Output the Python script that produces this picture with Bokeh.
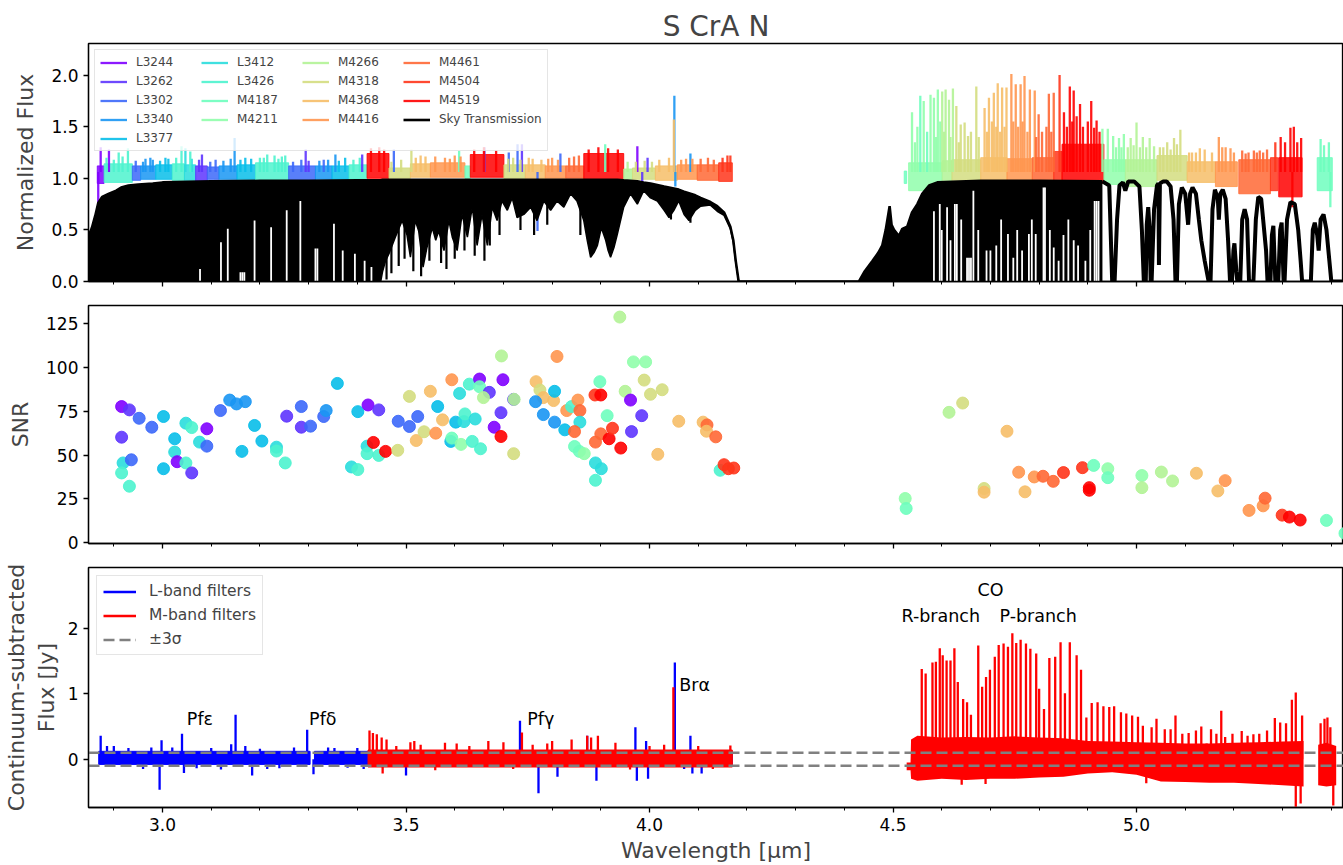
import numpy as np
from bokeh.plotting import figure
from bokeh.models import (ColumnDataSource, Legend, LegendItem, Range1d, SingleIntervalTicker,
                          NumeralTickFormatter, CustomJSTickFormatter)
from bokeh.layouts import column
from bokeh.embed import file_html
from bokeh.resources import INLINE
from bokeh.core.properties import value

FONT = "DejaVu Sans"

# ---------------- data ----------------
order_names = ["L3244", "L3262", "L3302", "L3340", "L3377", "L3412", "L3426",
               "M4187", "M4211", "M4266", "M4318", "M4368", "M4416", "M4461", "M4504", "M4519"]

# top panel: spectral chunks per order (order index, start, end, low, high of the noisy band)
seg_ord = [0, 6, 2, 3, 4, 6, 5, 1, 2, 3, 4, 6, 2, 3, 4, 6,
           15, 10, 11, 12, 7, 15, 10, 11, 12, 13, 15, 9, 10, 11, 12, 13, 14,
           7, 8, 9, 10, 11, 12, 13, 14, 15, 8, 9, 10, 11, 12, 13, 14, 15, 7]
seg_x0 = [2.866, 2.880, 2.938, 2.955, 2.986, 3.020, 3.045, 3.068, 3.092, 3.116, 3.153, 3.191, 3.259, 3.314, 3.348, 3.383,
          3.420, 3.465, 3.509, 3.550, 3.621, 3.632, 3.701, 3.745, 3.786, 3.828, 3.865, 3.947, 3.965, 4.012, 4.057, 4.098, 4.142,
          4.523, 4.532, 4.601, 4.621, 4.680, 4.734, 4.786, 4.830, 4.847, 4.933, 4.977, 5.042, 5.104, 5.162, 5.210, 5.275, 5.292, 5.371]
seg_x1 = [2.880, 2.938, 2.955, 2.986, 3.020, 3.045, 3.068, 3.092, 3.116, 3.153, 3.191, 3.259, 3.314, 3.348, 3.383, 3.420,
          3.465, 3.509, 3.550, 3.621, 3.632, 3.701, 3.745, 3.786, 3.828, 3.865, 3.947, 3.965, 4.012, 4.057, 4.098, 4.142, 4.170,
          4.528, 4.601, 4.621, 4.680, 4.734, 4.786, 4.830, 4.847, 4.933, 4.977, 5.042, 5.104, 5.162, 5.207, 5.275, 5.290, 5.340, 5.402]
seg_lo = [0.95, 0.96, 0.98, 0.99, 0.99, 0.98, 0.98, 0.97, 0.99, 0.99, 0.99, 0.97, 0.98, 0.99, 0.99, 0.99,
          1.00, 1.00, 1.01, 1.01, 1.00, 1.01, 1.00, 1.00, 1.00, 1.00, 0.98, 0.99, 0.99, 0.98, 0.99, 0.98, 0.97,
          0.95, 0.88, 0.93, 0.98, 0.98, 0.97, 0.95, 0.93, 0.95, 0.94, 0.92, 0.98, 0.96, 0.92, 0.85, 0.88, 0.82, 0.88]
seg_hi = [1.12, 1.14, 1.12, 1.12, 1.13, 1.14, 1.13, 1.12, 1.11, 1.12, 1.13, 1.15, 1.12, 1.12, 1.12, 1.13,
          1.24, 1.10, 1.14, 1.15, 1.12, 1.23, 1.13, 1.13, 1.12, 1.12, 1.24, 1.09, 1.10, 1.12, 1.13, 1.13, 1.15,
          1.07, 1.15, 1.17, 1.18, 1.20, 1.19, 1.20, 1.26, 1.33, 1.18, 1.18, 1.22, 1.16, 1.16, 1.18, 1.20, 1.20, 1.20]

# top panel: individual lines / spikes (order index, wavelength, flux)
spk_ord = [0, 0, 6, 6, 3, 3, 4, 6, 5, 6, 1, 2, 3, 4, 6, 6, 6, 6, 1, 3, 2, 3, 4, 1, 2, 10, 7, 1, 2, 2, 1, 2, 7, 0, 1, 3, 11, 3,
           0, 2, 1, 3, 11, 12, 12, 10, 11, 12, 13, 10, 12, 13, 14,
           8, 7, 8, 8, 8, 8, 9, 9, 9, 9, 10, 10, 10, 10, 10, 11, 11, 11, 11, 11, 11, 12, 12, 12, 12, 12, 12, 13, 13, 13, 14,
           15, 15, 15, 15, 15, 15, 15, 8, 8,
           8, 8, 8, 9, 9, 9, 9, 9, 10, 10, 10, 10, 11, 11, 12, 12, 12, 13, 13, 13, 13, 13, 14, 15, 15, 15, 15, 7, 7, 15, 7,
           6, 6, 6, 2, 3, 3, 4, 4, 6, 5, 1, 2, 3, 3, 4, 4, 6, 6, 6, 2, 2, 1, 3, 4, 6, 6,
           10, 10, 11, 11, 12, 12, 12, 10, 10, 11, 11, 12, 12, 13, 13, 9, 10, 10, 11, 11, 12, 12, 13, 13, 14, 14,
           15, 15, 15, 15, 15, 15, 15, 15, 15, 15,
           8, 8, 7, 8, 8, 9, 9, 10, 10, 10, 11, 11, 11, 11, 11, 12, 12, 12, 12, 13, 13, 13, 13, 15, 15, 15, 15, 15, 15,
           8, 8, 9, 9, 9, 9, 10, 10, 10, 11, 11, 11, 11, 12, 12, 13, 13, 13, 15, 15, 7]
spk_x = [2.873, 2.890, 2.910, 2.929, 2.965, 2.975, 3.006, 3.039, 3.047, 3.057, 3.081, 3.109, 3.148, 3.170, 3.200, 3.215, 3.230,
         3.245, 3.294, 3.322, 3.331, 3.355, 3.375, 3.410, 3.475, 3.511, 3.609, 3.661, 3.711, 3.729, 3.738, 3.817, 3.909, 3.975,
         3.996, 4.051, 4.050, 4.084,
         2.868, 3.770, 3.985, 4.053, 3.530, 3.580, 3.600, 3.720, 3.760, 3.800, 3.845, 3.990, 4.075, 4.120, 4.160,
         4.539, 4.556, 4.563, 4.577, 4.584, 4.592, 4.601, 4.608, 4.615, 4.623, 4.630, 4.639, 4.647, 4.654, 4.671, 4.688, 4.697,
         4.707, 4.715, 4.724, 4.733, 4.743, 4.752, 4.762, 4.770, 4.781, 4.791, 4.799, 4.820, 4.830, 4.842,
         4.851, 4.863, 4.871, 4.884, 4.907, 4.913, 4.918, 4.930, 4.941,
         4.952, 4.964, 4.974, 4.988, 5.000, 5.013, 5.027, 5.036, 5.048, 5.063, 5.077, 5.090, 5.114, 5.130, 5.169, 5.183, 5.193,
         5.217, 5.224, 5.241, 5.253, 5.268, 5.285, 5.296, 5.316, 5.323, 5.338, 5.378, 5.395, 5.320, 5.398,
         2.885, 2.900, 2.918, 2.945, 2.960, 2.980, 2.995, 3.012, 3.028, 3.060, 3.075, 3.098, 3.125, 3.140, 3.160, 3.182,
         3.208, 3.238, 3.252, 3.268, 3.285, 3.300, 3.340, 3.362, 3.392, 3.405,
         3.470, 3.490, 3.520, 3.540, 3.560, 3.590, 3.612, 3.710, 3.735, 3.752, 3.778, 3.792, 3.812, 3.835, 3.855, 3.955,
         3.972, 4.005, 4.020, 4.040, 4.065, 4.088, 4.105, 4.132, 4.150, 4.166,
         3.428, 3.445, 3.455, 3.640, 3.660, 3.685, 3.875, 3.895, 3.915, 3.935,
         4.545, 4.550, 4.570, 4.588, 4.597, 4.605, 4.618, 4.635, 4.660, 4.676, 4.693, 4.703, 4.712, 4.720, 4.729, 4.747,
         4.757, 4.766, 4.776, 4.794, 4.806, 4.815, 4.825, 4.857, 4.868, 4.877, 4.890, 4.900, 4.924,
         4.958, 4.969, 4.982, 4.994, 5.007, 5.020, 5.055, 5.070, 5.083, 5.108, 5.122, 5.140, 5.155, 5.176, 5.200, 5.230,
         5.247, 5.260, 5.305, 5.330, 5.385]
spk_y = [1.30, 1.28, 1.25, 1.29, 1.19, 1.20, 1.20, 1.31, 1.29, 1.26, 1.23, 1.18, 1.39, 1.20, 1.20, 1.23, 1.22,
         1.21, 1.28, 1.17, 1.18, 1.23, 1.20, 1.23, 1.28, 1.28, 1.27, 1.30, 1.25, 1.33, 1.33, 1.24, 1.33, 1.31,
         1.20, 1.80, 1.57, 1.24,
         0.72, 0.49, 0.88, 0.92, 1.22, 1.20, 1.22, 1.20, 1.19, 1.20, 1.21, 1.17, 1.19, 1.20, 1.22,
         1.64, 1.80, 1.75, 1.81, 1.78, 1.86, 1.84, 1.86, 1.76, 1.87, 1.70, 1.52, 1.54, 1.41, 1.89, 1.68, 1.78,
         1.83, 1.92, 1.88, 1.88, 2.01, 1.91, 1.91, 1.99, 1.86, 1.85, 1.62, 1.82, 1.83, 2.00,
         1.64, 1.89, 1.85, 1.72, 1.75, 1.49, 1.56, 1.48, 1.48,
         1.41, 1.39, 1.43, 1.39, 1.54, 1.40, 1.39, 1.31, 1.30, 1.35, 1.39, 1.47, 1.25, 1.29, 1.40, 1.30, 1.29,
         1.27, 1.24, 1.27, 1.27, 1.28, 1.35, 1.40, 1.49, 1.50, 1.39, 1.38, 1.35, 0.72, 0.72,
         1.20, 1.18, 1.21, 1.17, 1.16, 1.18, 1.17, 1.19, 1.20, 1.19, 1.18, 1.16, 1.17, 1.19, 1.18, 1.19,
         1.20, 1.19, 1.22, 1.16, 1.18, 1.17, 1.18, 1.17, 1.18, 1.20,
         1.16, 1.18, 1.20, 1.21, 1.21, 1.19, 1.21, 1.19, 1.18, 1.20, 1.18, 1.19, 1.18, 1.20, 1.22, 1.16,
         1.16, 1.16, 1.18, 1.20, 1.18, 1.19, 1.19, 1.18, 1.20, 1.22,
         1.29, 1.30, 1.28, 1.28, 1.30, 1.27, 1.28, 1.30, 1.29, 1.28,
         1.35, 1.50, 1.45, 1.40, 1.55, 1.45, 1.40, 1.35, 1.45, 1.40, 1.45, 1.55, 1.50, 1.45, 1.50, 1.55,
         1.50, 1.55, 1.45, 1.40, 1.45, 1.50, 1.45, 1.50, 1.55, 1.60, 1.50, 1.55, 1.45,
         1.30, 1.30, 1.30, 1.32, 1.30, 1.30, 1.30, 1.28, 1.33, 1.25, 1.25, 1.28, 1.25, 1.30, 1.25, 1.25,
         1.25, 1.25, 1.35, 1.35, 1.32]

# sky transmission, L side (wavelength, upper envelope, lower envelope)
sky_lx = [2.848, 2.855, 2.862, 2.868, 2.876, 2.890, 2.905, 2.915, 2.930, 2.950,
          2.980, 3.000, 3.050, 3.100, 3.200, 3.300, 3.400, 3.448, 3.452, 3.458,
          3.465, 3.478, 3.492, 3.502, 3.509, 3.519, 3.526, 3.535, 3.543, 3.554,
          3.561, 3.567, 3.578, 3.588, 3.595, 3.605, 3.615, 3.626, 3.636, 3.646,
          3.656, 3.667, 3.677, 3.687, 3.697, 3.708, 3.718, 3.728, 3.742, 3.756,
          3.769, 3.783, 3.797, 3.810, 3.824, 3.838, 3.851, 3.865, 3.872, 3.879,
          3.886, 3.893, 3.901, 3.910, 3.915, 3.920, 3.927, 3.934, 3.947, 3.961,
          3.975, 3.988, 4.002, 4.016, 4.030, 4.040, 4.050, 4.060, 4.071, 4.081,
          4.094, 4.105, 4.125, 4.139, 4.153, 4.166, 4.172, 4.177, 4.183]
sky_lhi = [0.44, 0.52, 0.64, 0.76, 0.82, 0.85, 0.88, 0.91, 0.93, 0.94,
           0.95, 0.96, 0.965, 0.97, 0.975, 0.975, 0.98, 0.98, 0.985, 0.985,
           0.985, 0.985, 0.985, 0.985, 0.985, 0.985, 0.985, 0.985, 0.985, 0.985,
           0.985, 0.985, 0.985, 0.985, 0.985, 0.985, 0.985, 0.985, 0.985, 0.985,
           0.985, 0.985, 0.985, 0.985, 0.985, 0.985, 0.985, 0.985, 0.985, 0.985,
           0.985, 0.985, 0.985, 0.985, 0.985, 0.985, 0.985, 0.985, 0.985, 0.985,
           0.985, 0.985, 0.985, 0.985, 0.985, 0.985, 0.985, 0.985, 0.98, 0.975,
           0.97, 0.96, 0.95, 0.935, 0.92, 0.91, 0.90, 0.89, 0.87, 0.855,
           0.835, 0.81, 0.77, 0.73, 0.67, 0.53, 0.40, 0.20, 0.0]
sky_llo = [0, 0, 0, 0, 0, 0, 0, 0, 0, 0,
           0, 0, 0, 0, 0, 0, 0, 0, 0.10, 0.20,
           0.27, 0.43, 0.59, 0.45, 0.235, 0.59, 0.49, 0.14, 0.33, 0.52,
           0.40, 0.49, 0.30, 0.59, 0.43, 0.30, 0.65, 0.43, 0.72, 0.35,
           0.65, 0.35, 0.72, 0.59, 0.78, 0.69, 0.81, 0.62, 0.65, 0.72,
           0.59, 0.78, 0.69, 0.78, 0.72, 0.85, 0.78, 0.59, 0.40, 0.235,
           0.28, 0.35, 0.52, 0.40, 0.30, 0.235, 0.33, 0.46, 0.72, 0.85,
           0.75, 0.88, 0.81, 0.78, 0.69, 0.62, 0.69, 0.78, 0.65, 0.59,
           0.69, 0.73, 0.74, 0.68, 0.64, 0.51, 0.38, 0.19, 0.0]

# deep single telluric lines reaching below the lower envelope (wavelength, depth)
deep_x = [3.460, 3.470, 3.485, 3.497, 3.515, 3.531, 3.548, 3.572, 3.583, 3.600, 3.620, 3.641, 3.661, 3.672, 3.692,
          3.735, 3.763, 3.790, 3.858, 4.044, 4.084]
deep_y = [0.02, 0.08, 0.15, 0.22, 0.10, 0.05, 0.20, 0.18, 0.12, 0.22, 0.30, 0.25, 0.20, 0.35, 0.45,
          0.50, 0.45, 0.55, 0.45, 0.60, 0.57]

# sky transmission, M side (dense part)
sky_mx = [4.183, 4.430, 4.442, 4.458, 4.470, 4.478, 4.485, 4.493, 4.497, 4.502,
          4.512, 4.519, 4.529, 4.539, 4.550, 4.560, 4.574, 4.591, 4.680, 4.800, 4.930]
sky_mhi = [0.0, 0.0, 0.10, 0.20, 0.28, 0.35, 0.50, 0.73, 0.55, 0.50,
           0.44, 0.51, 0.53, 0.67, 0.75, 0.85, 0.93, 0.96, 0.975, 0.975, 0.97]

# sky transmission, resolved windows beyond 4.93 um
arch_x = [4.930, 4.944, 4.950, 4.955, 4.960, 4.965, 4.972, 4.977, 4.983, 4.995, 5.006, 5.011, 5.015, 5.019, 5.021,
          5.024, 5.027, 5.029, 5.031, 5.036, 5.042, 5.045, 5.046, 5.048, 5.055, 5.062, 5.070, 5.076, 5.080, 5.083,
          5.087, 5.093, 5.100, 5.106, 5.110, 5.115, 5.122, 5.128, 5.133, 5.140, 5.148, 5.152, 5.156, 5.161, 5.167,
          5.169, 5.172, 5.177, 5.183, 5.188, 5.192, 5.196, 5.199, 5.201, 5.205, 5.207, 5.213, 5.217, 5.222, 5.227,
          5.231, 5.240, 5.245, 5.250, 5.256, 5.262, 5.266, 5.269, 5.275, 5.278, 5.281, 5.285, 5.291, 5.295, 5.298,
          5.302, 5.304, 5.309, 5.316, 5.325, 5.332, 5.337, 5.340, 5.358, 5.362, 5.366, 5.371, 5.374, 5.378, 5.384,
          5.390, 5.396, 5.400, 5.430]
arch_y = [0.97, 0.93, 0.0, 0.0, 0.60, 0.93, 0.96, 0.88, 0.97, 0.97, 0.92, 0.50, 0.0, 0.0, 0.55,
          0.72, 0.50, 0.0, 0.0, 0.70, 0.93, 0.95, 0.16, 0.95, 0.97, 0.97, 0.92, 0.60, 0.0, 0.0,
          0.75, 0.91, 0.85, 0.55, 0.85, 0.91, 0.85, 0.60, 0.40, 0.20, 0.0, 0.0, 0.70, 0.89, 0.80,
          0.60, 0.85, 0.89, 0.80, 0.40, 0.0, 0.0, 0.30, 0.37, 0.10, 0.0, 0.0, 0.60, 0.70, 0.60,
          0.0, 0.0, 0.60, 0.82, 0.80, 0.50, 0.30, 0.0, 0.0, 0.45, 0.54, 0.0, 0.0, 0.50, 0.57,
          0.0, 0.0, 0.60, 0.77, 0.75, 0.50, 0.20, 0.0, 0.0, 0.50, 0.57, 0.45, 0.30, 0.60, 0.65,
          0.50, 0.20, 0.0, 0.0]

# narrow transparent gaps between deep telluric lines
slit_x = [3.077, 3.120, 3.134, 3.160, 3.164, 3.168, 3.189, 3.223, 3.255, 3.283, 3.314, 3.318, 3.352, 3.370, 3.395,
          3.415, 3.429,
          4.584, 4.596, 4.611, 4.627, 4.631, 4.652, 4.656, 4.660, 4.665, 4.692, 4.700, 4.736, 4.747, 4.779, 4.793,
          4.809, 4.812, 4.830, 4.840, 4.871, 4.895, 4.914, 4.918, 4.922,
          4.600, 4.618, 4.640, 4.675, 4.712, 4.722, 4.755, 4.765, 4.785, 4.822, 4.850, 4.860, 4.880, 4.905]
slit_top = [0.12, 0.38, 0.51, 0.09, 0.09, 0.09, 0.59, 0.525, 0.69, 0.78, 0.32, 0.32, 0.56, 0.30, 0.27,
            0.20, 0.14,
            0.68, 0.75, 0.72, 0.75, 0.75, 0.23, 0.23, 0.23, 0.88, 0.30, 0.30, 0.46, 0.23, 0.46, 0.46,
            0.91, 0.91, 0.33, 0.20, 0.40, 0.20, 0.78, 0.78, 0.78,
            0.50, 0.40, 0.60, 0.50, 0.35, 0.60, 0.50, 0.30, 0.60, 0.50, 0.45, 0.60, 0.35, 0.50]

# middle panel: SNR per chunk
snr_x = [2.916, 2.932, 2.952, 2.916, 2.919, 2.936, 2.916, 2.932, 2.978, 3.002, 3.025, 3.025, 3.002, 3.030, 3.048,
         3.048, 3.060, 3.060, 3.076, 3.091, 3.091, 3.119, 3.138, 3.152, 3.170, 3.163, 3.189, 3.204, 3.234, 3.234,
         3.252, 3.255, 3.285, 3.285, 3.304, 3.331, 3.336, 3.359, 3.401, 3.388, 3.401, 3.422, 3.444, 3.420, 3.433,
         3.420, 3.444, 3.458, 3.483, 3.484, 3.507, 3.524, 3.507, 3.521, 3.537, 3.550, 3.561, 3.565, 3.575, 3.594,
         3.610, 3.602, 3.592, 3.594, 3.613, 3.619, 3.621, 3.630, 3.642, 3.636, 3.653, 3.651, 3.651, 3.671, 3.659,
         3.696, 3.699, 3.695, 3.681, 3.695, 3.721, 3.722, 3.721, 3.767, 3.775, 3.782, 3.766, 3.803, 3.805, 3.810,
         3.782, 3.805, 3.826, 3.830, 3.840, 3.853, 3.857, 3.857, 3.846, 3.846, 3.856, 3.866, 3.888, 3.900, 3.898,
         3.913, 3.889, 3.900, 3.917, 3.924, 3.941, 3.889, 3.901, 3.889, 3.939, 3.950, 3.961, 3.963, 3.967, 3.992,
         3.989, 3.984, 4.002, 4.026, 4.017, 4.060, 4.110, 4.118, 4.117, 4.136, 4.145, 4.153, 4.162, 4.173,
         4.525, 4.527, 4.615, 4.643, 4.734, 4.687, 4.687, 4.758, 4.771, 4.790, 4.808, 4.829, 4.850, 4.889, 4.903,
         4.903, 4.912, 4.941, 4.941, 5.011, 5.011, 5.051, 5.074, 5.123, 5.167, 5.182, 5.231, 5.260, 5.264, 5.299,
         5.314, 5.336, 5.390, 5.428]
snr_y = [77.7, 75.8, 71.0, 60.2, 45.5, 47.3, 39.8, 32.2, 65.9, 72.0, 59.3, 51.7, 42.2, 46.2, 45.5,
         68.2, 65.7, 39.8, 57.4, 55.1, 65.0, 75.4, 81.4, 79.2, 80.5, 52.1, 66.9, 58.0, 54.5, 52.3,
         45.5, 72.2, 77.7, 65.9, 66.5, 72.0, 75.4, 90.9, 74.8, 43.2, 41.7, 78.6, 75.8, 55.1, 57.2,
         50.8, 49.8, 52.1, 52.7, 69.3, 66.3, 72.0, 83.5, 58.3, 63.3, 86.4, 62.5, 77.7, 70.1, 93.0,
         85.2, 68.8, 57.8, 59.7, 56.1, 69.1, 73.5, 90.5, 70.6, 57.8, 53.6, 93.4, 89.0, 85.8, 82.8,
         106.6, 93.0, 74.2, 65.9, 60.6, 81.8, 81.8, 50.8, 91.9, 87.1, 82.8, 80.5, 81.1, 86.4, 106.3,
         73.1, 68.8, 64.4, 75.4, 77.7, 81.4, 75.4, 68.8, 63.4, 54.9, 52.1, 50.8, 84.3, 84.3, 91.9,
         72.5, 57.4, 62.1, 59.3, 65.3, 54.0, 45.5, 42.2, 35.6, 128.8, 86.4, 81.4, 63.4, 103.2, 103.2,
         92.8, 72.5, 84.7, 87.3, 50.4, 69.3, 68.8, 67.2, 63.6, 60.4, 41.3, 44.5, 42.2, 42.6,
         25.2, 19.5, 74.4, 79.7, 63.6, 30.9, 28.8, 40.2, 29.0, 37.5, 37.9, 35.0, 40.0, 42.8, 31.4,
         29.9, 44.1, 42.2, 37.1, 38.3, 31.4, 40.3, 35.2, 39.6, 29.5, 35.4, 18.4, 21.0, 25.4, 15.7,
         14.6, 12.9, 12.7, 5.3]
snr_ord = [0, 1, 2, 1, 5, 2, 6, 6, 2, 4, 4, 5, 4, 0, 6,
           5, 6, 1, 5, 2, 0, 2, 3, 3, 3, 4, 4, 4, 5, 6,
           6, 1, 2, 1, 2, 2, 3, 4, 4, 5, 6, 0, 1, 5, 15,
           6, 6, 15, 10, 2, 2, 2, 10, 11, 10, 11, 12, 4, 11, 12,
           5, 4, 4, 7, 8, 5, 6, 6, 5, 6, 6, 0, 7, 1, 9,
           9, 0, 1, 0, 15, 1, 9, 10, 11, 10, 11, 3, 11, 4, 12,
           3, 3, 4, 12, 6, 12, 13, 5, 13, 7, 7, 8, 14, 15, 7,
           7, 13, 13, 15, 14, 15, 5, 5, 6, 9, 9, 0, 1, 8, 8,
           10, 1, 10, 10, 11, 11, 11, 13, 11, 13, 6, 14, 14, 14,
           8, 7, 9, 10, 11, 10, 11, 12, 11, 12, 13, 13, 14, 14, 15,
           15, 7, 8, 7, 8, 9, 9, 9, 11, 11, 12, 12, 12, 13, 14,
           15, 15, 7, 7]

# bottom panel: continuum-subtracted flux, noisy bands and lines
blue_x0 = [2.869, 3.312]
blue_x1 = [3.303, 4.170]
blue_lo = [-0.08, -0.08]
blue_hi = [0.12, 0.12]
blue_lx = [2.873, 2.886, 2.977, 2.994, 2.998, 3.040, 3.044, 3.141, 3.150, 3.184, 3.215, 3.297, 3.310, 3.353, 3.413,
           3.500, 3.664, 3.734, 3.772, 3.811, 3.872, 3.891, 3.971, 3.974, 3.993, 3.997, 4.052, 4.084, 4.088, 4.107,
           4.071, 2.900, 2.930, 2.960, 3.020, 3.070, 3.100, 3.120, 3.170, 3.200, 3.240, 3.270, 3.340, 3.380, 3.400]
blue_ly = [0.36, 0.20, 0.18, -0.47, 0.29, 0.39, -0.21, 0.23, 0.68, -0.25, -0.15, 0.45, -0.23, 0.17, -0.15,
           -0.25, -0.12, 0.59, -0.52, -0.27, 0.36, -0.33, 0.49, -0.33, 0.28, -0.30, 1.48, 0.36, -0.22, -0.22,
           -0.15, 0.20, 0.17, -0.15, 0.18, -0.14, 0.17, -0.16, 0.20, 0.16, -0.14, 0.18, 0.18, -0.13, 0.17]

# M-band orders on the L side (band)
redL_x0 = [3.422]
redL_x1 = [4.170]
redL_lo = [-0.12]
redL_hi = [0.14]
# M-band orders on the M side (envelope of the noisy band)
redM_x = [4.528, 4.536, 4.537, 4.550, 4.600, 4.650, 4.700, 4.750, 4.800, 4.850, 4.900, 4.950, 5.000,
          5.050, 5.100, 5.150, 5.200, 5.250, 5.300, 5.343]
redM_hi = [-0.05, -0.05, 0.30, 0.36, 0.33, 0.34, 0.33, 0.35, 0.33, 0.32, 0.28, 0.27, 0.26,
           0.25, 0.24, 0.24, 0.25, 0.26, 0.27, 0.28]
redM_lo = [-0.17, -0.17, -0.30, -0.33, -0.30, -0.32, -0.30, -0.30, -0.28, -0.27, -0.22, -0.20, -0.24,
           -0.34, -0.35, -0.36, -0.36, -0.38, -0.40, -0.42]
redE_x = [5.373, 5.390, 5.410]
redE_hi = [0.22, 0.25, 0.20]
redE_lo = [-0.40, -0.42, -0.40]

red_lx = [3.425, 3.432, 3.440, 3.450, 3.460, 3.452, 3.509, 3.517, 3.604, 3.669, 3.738, 3.790, 3.872, 3.880, 3.894,
          4.049, 4.166, 3.480, 3.530, 3.560, 3.580, 3.630, 3.700, 3.720, 3.760, 3.800, 3.840, 3.930, 3.960, 4.000,
          4.030, 4.100, 4.130,
          4.559, 4.567, 4.581, 4.588, 4.596, 4.602, 4.610, 4.618, 4.626, 4.633, 4.644, 4.652, 4.660, 4.675, 4.683,
          4.691, 4.699, 4.709, 4.717, 4.727, 4.736, 4.745, 4.753, 4.762, 4.773, 4.782, 4.794, 4.800, 4.810, 4.821,
          4.833, 4.844, 4.853, 4.863, 4.877, 4.886, 4.897, 4.908, 4.920, 4.932, 4.944, 4.954, 4.968, 4.979, 4.991,
          5.003, 5.013, 5.031, 5.041, 5.058, 5.070, 5.080, 5.094, 5.107, 5.122, 5.133, 5.144, 5.153, 5.164, 5.174,
          5.182, 5.197, 5.216, 5.228, 5.240, 5.252, 5.268, 5.284, 5.295, 5.307, 5.319, 5.327, 5.340, 5.378, 5.386,
          5.392, 5.398, 5.327, 5.337, 5.404, 5.020, 4.641, 4.690]
red_ly = [0.44, 0.40, 0.38, 0.33, 0.30, -0.22, 0.26, 0.28, 0.24, 0.28, 0.41, 0.24, 0.36, 0.33, 0.36,
          1.10, 0.21, 0.20, 0.22, -0.17, 0.25, 0.20, 0.26, -0.15, 0.22, 0.28, 0.30, 0.25, -0.16, 0.20,
          0.22, 0.20, -0.15,
          1.38, 1.31, 1.48, 1.49, 1.70, 1.59, 1.51, 1.51, 1.70, 1.18, 0.92, 0.87, 0.68, 1.74, 1.11,
          1.26, 1.37, 1.57, 1.75, 1.77, 1.72, 1.93, 1.78, 1.83, 1.77, 1.69, 1.62, 1.08, 0.77, 1.55,
          1.57, 1.79, 1.01, 1.79, 1.59, 1.37, 0.64, 0.86, 0.87, 0.81, 0.80, 0.81, 0.72, 0.70, 0.67,
          0.65, 0.51, 0.49, 0.62, 0.46, 0.46, 0.67, 0.39, 0.40, 0.44, 0.50, 0.24, 0.46, 0.39, 0.74,
          0.34, 0.39, 0.43, 0.36, 0.38, 0.39, 0.44, 0.63, 0.56, 0.55, 0.91, 1.02, 0.67, 0.55, 0.62,
          0.64, 0.49, -0.73, -0.68, -0.71, -0.37, -0.39, -0.38]

sigma3 = 0.1

ann_text = ["Pfε", "Pfδ", "Pfγ", "Brα", "CO", "R-branch", "P-branch"]
ann_x = [3.050, 3.301, 3.749, 4.061, 4.700, 4.598, 4.798]
ann_y = [0.617, 0.617, 0.617, 1.14, 2.59, 2.20, 2.20]
ann_align = ["left", "left", "left", "left", "center", "center", "center"]


# ---------------- style helpers ----------------
def rainbow(t):
    r = min(1.0, abs(2 * t - 0.5))
    g = max(0.0, np.sin(np.pi * t))
    b = max(0.0, np.cos(np.pi * t / 2))
    return "#%02x%02x%02x" % (int(round(255 * r)), int(round(255 * g)), int(round(255 * b)))


order_colors = [rainbow(i / 15) for i in range(16)]

XR = Range1d(2.848, 5.425)


def style(p, ytick, yfmt, show_xlabels):
    p.grid.visible = False
    p.outline_line_color = "black"
    p.outline_line_width = 1.3
    p.xaxis.ticker = SingleIntervalTicker(interval=0.5, num_minor_ticks=5)
    p.yaxis.ticker = SingleIntervalTicker(interval=ytick, num_minor_ticks=0)
    p.yaxis.formatter = NumeralTickFormatter(format=yfmt)
    p.xaxis.formatter = NumeralTickFormatter(format="0.0")
    for ax in p.xaxis + p.yaxis:
        ax.axis_line_width = 1.3
        ax.major_tick_line_width = 1.3
        ax.minor_tick_line_width = 1.0
        ax.major_tick_out = 5
        ax.major_tick_in = 0
        ax.minor_tick_out = 3
        ax.minor_tick_in = 0
        ax.major_label_text_font = FONT
        ax.major_label_text_font_size = "17px"
        ax.major_label_text_color = "black"
        ax.axis_label_text_font = FONT
        ax.axis_label_text_font_size = "22px"
        ax.axis_label_text_font_style = "normal"
        ax.major_label_standoff = 5
    if not show_xlabels:
        p.xaxis.formatter = CustomJSTickFormatter(code="return ''")
        p.xaxis.major_label_standoff = 0


# ---------------- top panel ----------------
p1 = figure(width=1343, height=293, x_range=XR, y_range=Range1d(0, 2.306),
            output_backend="svg", toolbar_location=None, title="S CrA N",
            min_border_left=88, min_border_right=0, min_border_top=43, min_border_bottom=12)
style(p1, 0.5, "0.0", False)
p1.title.text_font = FONT
p1.title.text_font_size = "28px"
p1.title.text_font_style = "normal"
p1.title.align = "center"
p1.title.standoff = 2
p1.yaxis.axis_label = "Normalized Flux"
p1.yaxis.axis_label_standoff = 10

seg_src = ColumnDataSource(dict(left=seg_x0, right=seg_x1, bottom=seg_lo, top=seg_hi,
                                color=[order_colors[i] for i in seg_ord]))
p1.quad(left="left", right="right", bottom="bottom", top="top", fill_color="color", line_color="color",
        fill_alpha=0.85, line_alpha=0.85, line_width=1, source=seg_src)

order_r = []
for i in range(16):
    xs = [x for x, o in zip(spk_x, spk_ord) if o == i]
    ys = [y for y, o in zip(spk_y, spk_ord) if o == i]
    r = p1.segment(x0=xs, y0=[1.06] * len(xs), x1=xs, y1=ys, line_color=order_colors[i],
                   line_width=2.3, line_alpha=0.9)
    order_r.append(r)

p1.varea(x=sky_lx, y1=sky_llo, y2=sky_lhi, fill_color="black")
sky_r = p1.line(x=sky_lx, y=sky_lhi, line_color="black", line_width=2.6)
p1.line(x=sky_lx, y=sky_llo, line_color="black", line_width=1.5)
p1.segment(x0=deep_x, y0=[0.8] * len(deep_x), x1=deep_x, y1=deep_y, line_color="black", line_width=2.2)
p1.varea(x=sky_mx, y1=[0.0] * len(sky_mx), y2=sky_mhi, fill_color="black")
p1.line(x=sky_mx, y=sky_mhi, line_color="black", line_width=2.6)
p1.line(x=arch_x, y=arch_y, line_color="black", line_width=4)
p1.segment(x0=slit_x, y0=[0.004] * len(slit_x), x1=slit_x, y1=slit_top, line_color="white", line_width=1.8)

leg_order = [0, 5, 9, 13, 1, 6, 10, 14, 2, 7, 11, 15, 3, 8, 12, -1, 4]
items = []
for i in leg_order:
    if i < 0:
        items.append(LegendItem(label="Sky Transmission", renderers=[sky_r]))
    else:
        items.append(LegendItem(label=order_names[i], renderers=[order_r[i]]))
leg1 = Legend(items=items, location="top_left", orientation="horizontal", ncols=4,
              margin=6, padding=5, spacing=5, label_height=13, glyph_height=13, glyph_width=27,
              label_standoff=9, label_width=60, label_text_font=FONT, label_text_font_size="12px",
              background_fill_alpha=0.8, border_line_color="#cccccc", border_line_width=1)
p1.add_layout(leg1)

# ---------------- middle panel ----------------
p2 = figure(width=1343, height=262, x_range=XR, y_range=Range1d(-0.5, 135.4),
            output_backend="svg", toolbar_location=None,
            min_border_left=88, min_border_right=0, min_border_top=12, min_border_bottom=12)
style(p2, 25, "0", False)
p2.yaxis.axis_label = "SNR"
p2.yaxis.axis_label_standoff = 10
snr_src = ColumnDataSource(dict(x=snr_x, y=snr_y, color=[order_colors[i] for i in snr_ord]))
p2.scatter(x="x", y="y", size=12, fill_color="color", line_color="color", alpha=0.9, source=snr_src)

# ---------------- bottom panel ----------------
p3 = figure(width=1343, height=310, x_range=XR, y_range=Range1d(-0.74, 2.935),
            output_backend="svg", toolbar_location=None,
            min_border_left=88, min_border_right=0, min_border_top=12, min_border_bottom=58)
style(p3, 1, "0", True)
p3.yaxis.axis_label = "Continuum-subtracted\nFlux [Jy]"
p3.yaxis.axis_label_standoff = 6
p3.xaxis.axis_label = "Wavelength [μm]"
p3.xaxis.axis_label_standoff = 4

p3.quad(left=blue_x0, right=blue_x1, bottom=blue_lo, top=blue_hi, fill_color="blue", line_color="blue")
b_r = p3.segment(x0=blue_lx, y0=[0.0] * len(blue_lx), x1=blue_lx, y1=blue_ly, line_color="blue", line_width=2.3)
p3.quad(left=redL_x0, right=redL_x1, bottom=redL_lo, top=redL_hi, fill_color="red", line_color="red")
p3.varea(x=redM_x, y1=redM_lo, y2=redM_hi, fill_color="red")
p3.varea(x=redE_x, y1=redE_lo, y2=redE_hi, fill_color="red")
r_r = p3.segment(x0=red_lx, y0=[0.0] * len(red_lx), x1=red_lx, y1=red_ly, line_color="red", line_width=2.3)
s_r = p3.line(x=[XR.start, XR.end], y=[sigma3, sigma3], line_color="gray", line_width=2.5, line_dash="11 5")
p3.line(x=[XR.start, XR.end], y=[-sigma3, -sigma3], line_color="gray", line_width=2.5, line_dash="11 5")

leg3 = Legend(items=[LegendItem(label="L-band filters", renderers=[b_r]),
                     LegendItem(label="M-band filters", renderers=[r_r]),
                     LegendItem(label="±3σ", renderers=[s_r])],
              location="top_left", margin=8, padding=6, spacing=6, label_height=17, glyph_height=17,
              glyph_width=33, label_standoff=13, label_text_font=FONT, label_text_font_size="15.5px",
              background_fill_alpha=0.8, border_line_color="#cccccc", border_line_width=1)
p3.add_layout(leg3)

ann_src = ColumnDataSource(dict(x=ann_x, y=ann_y, text=ann_text, align=ann_align))
p3.text(x="x", y="y", text="text", text_align="align", text_baseline="middle", text_font=value(FONT),
        text_font_size="17.5px", text_color="black", source=ann_src)

layout = column(p1, p2, p3, spacing=0)
open("out.html", "w").write(file_html(layout, INLINE))
